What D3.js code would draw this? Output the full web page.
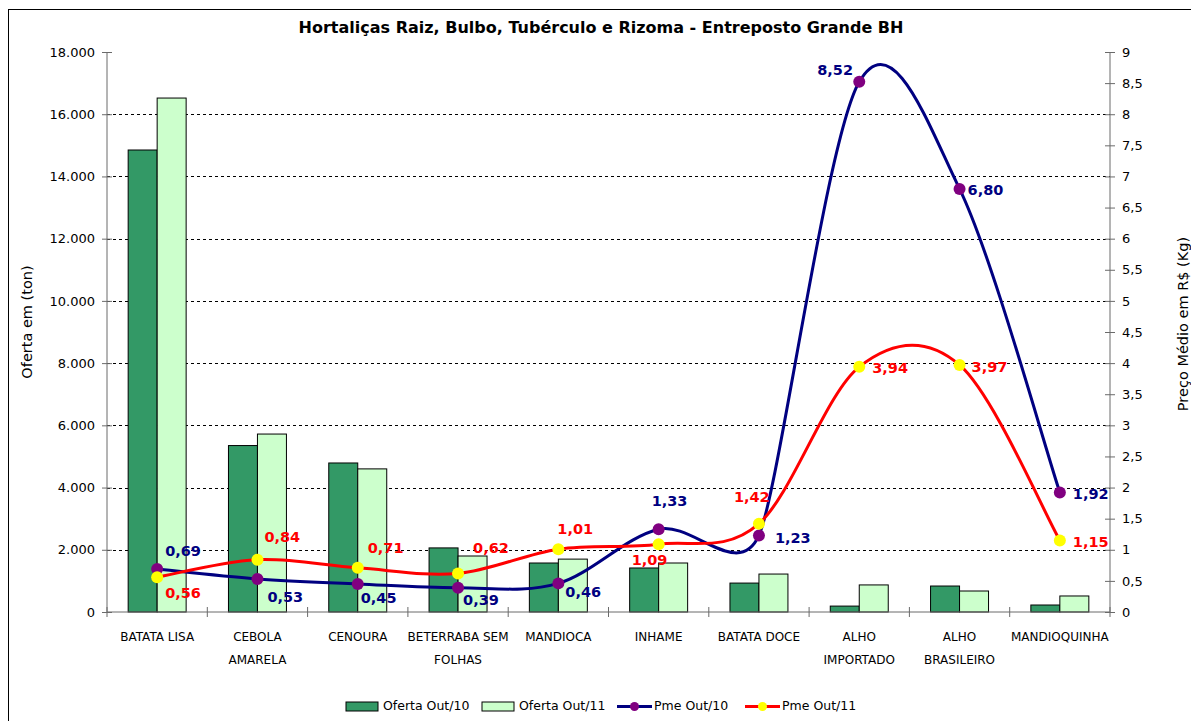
<!DOCTYPE html>
<html><head><meta charset="utf-8">
<script src="https://cdn.jsdelivr.net/npm/d3@7"></script>
<style>
html,body{margin:0;padding:0;background:#fff;}
svg{display:block;font-family:"DejaVu Sans",Verdana,sans-serif;}
</style></head>
<body>
<svg id="chart" width="1191" height="721"></svg>
<script>
// ---- data ----
const categories = ["BATATA LISA","CEBOLA AMARELA","CENOURA","BETERRABA SEM FOLHAS","MANDIOCA","INHAME","BATATA DOCE","ALHO IMPORTADO","ALHO BRASILEIRO","MANDIOQUINHA"];
const categoryLines = [["BATATA LISA"],["CEBOLA","AMARELA"],["CENOURA"],["BETERRABA SEM","FOLHAS"],["MANDIOCA"],["INHAME"],["BATATA DOCE"],["ALHO","IMPORTADO"],["ALHO","BRASILEIRO"],["MANDIOQUINHA"]];
const ofertaOut10 = [14850, 5350, 4790, 2060, 1575, 1415, 930, 190, 835, 225];
const ofertaOut11 = [16520, 5720, 4600, 1800, 1700, 1575, 1220, 870, 675, 515];
const pmeOut10 = [0.69, 0.53, 0.45, 0.39, 0.46, 1.33, 1.23, 8.52, 6.80, 1.92];
const pmeOut11 = [0.56, 0.84, 0.71, 0.62, 1.01, 1.09, 1.42, 3.94, 3.97, 1.15];
const leftTicks = [0,2000,4000,6000,8000,10000,12000,14000,16000,18000];
const rightTicks = [0,0.5,1,1.5,2,2.5,3,3.5,4,4.5,5,5.5,6,6.5,7,7.5,8,8.5,9];
const seriesNames = ["Oferta Out/10","Oferta Out/11","Pme Out/10","Pme Out/11"];
const title = "Hortaliças Raiz, Bulbo, Tubérculo e Rizoma - Entreposto Grande BH";

// ---- layout / style ----
const L = 107, R = 1110, T = 52, B = 612;
const C = {dark:"#339966", light:"#CCFFCC", navy:"#000080", red:"#FF0000", purple:"#800080", yellow:"#FFFF00", axis:"#6a6a6a"};
// label offsets relative to point (dx to text start, dy to text middle)
const off10 = [[8,-18],[10,18],[3,14],[5,12],[7,9],[-7,-28],[16,2],[-42,-12],[8,1],[13,1]];
const off11 = [[8,16],[7,-23],[10,-20],[15,-25],[-1,-20],[-27,16],[-25,-27],[13,1],[12,2],[13,1]];

const svg = d3.select("#chart");
svg.append("rect").attr("x",8.5).attr("y",9.5).attr("width",1190).attr("height",730)
  .attr("fill","#fff").attr("stroke","#000").attr("stroke-width",1);

const x = d3.scaleBand().domain(categories).range([L,R]).padding(0);
const x1 = d3.scaleBand().domain(["o10","o11"]).range([0,x.bandwidth()]).paddingInner(0).paddingOuter(0.73);
const yL = d3.scaleLinear().domain([0,18000]).range([B,T]);
const yR = d3.scaleLinear().domain([0,9]).range([B,T]);
const fmtL = v => d3.format(",")(v).replace(/,/g,".");
const fmtR = v => String(v).replace(".",",");
const fmtP = v => v.toFixed(2).replace(".",",");

// gridlines
svg.append("g").selectAll("line").data(leftTicks.filter(t=>t>0 && t<18000)).join("line")
  .attr("x1",L).attr("x2",R).attr("y1",d=>Math.round(yL(d))+0.5).attr("y2",d=>Math.round(yL(d))+0.5)
  .attr("stroke","#000").attr("stroke-width",1).attr("stroke-dasharray","3,3");

// bars
const g = svg.append("g");
categories.forEach((c,i)=>{
  [["o10",ofertaOut10[i],C.dark],["o11",ofertaOut11[i],C.light]].forEach(([k,v,col])=>{
    g.append("rect").attr("x",x(c)+x1(k)).attr("y",yL(v)).attr("width",x1.bandwidth()).attr("height",B-yL(v))
      .attr("fill",col).attr("stroke","#000").attr("stroke-width",1);
  });
});

// axes
const axL = d3.axisLeft(yL).tickValues(leftTicks).tickFormat(fmtL).tickSize(5).tickPadding(7);
const gL = svg.append("g").attr("transform",`translate(${L},0)`).call(axL);
gL.selectAll(".tick line").attr("x2",-5).clone().attr("x2",5);
const axR = d3.axisRight(yR).tickValues(rightTicks).tickFormat(fmtR).tickSize(5).tickPadding(7);
const gR = svg.append("g").attr("transform",`translate(${R},0)`).call(axR);
gR.selectAll(".tick line").attr("x2",5).clone().attr("x2",-5);
const axB = d3.axisBottom(x).tickValues([]).tickSize(0);
const gB = svg.append("g").attr("transform",`translate(0,${B})`).call(axB);
const bounds = categories.map(c=>x(c)).concat([R]);
gB.selectAll("line.bt").data(bounds).join("line").attr("class","bt")
  .attr("x1",d=>d).attr("x2",d=>d).attr("y1",-5).attr("y2",5);
[gL,gR,gB].forEach(a=>{
  a.selectAll("line").attr("stroke",C.axis);
  a.selectAll("text").attr("font-size",13).attr("fill","#000").attr("font-family","DejaVu Sans, sans-serif");
  a.select(".domain").remove();
});
svg.append("line").attr("x1",L).attr("x2",L).attr("y1",T).attr("y2",B).attr("stroke",C.axis);
svg.append("line").attr("x1",R).attr("x2",R).attr("y1",T).attr("y2",B).attr("stroke",C.axis);
svg.append("line").attr("x1",L).attr("x2",R).attr("y1",B).attr("y2",B).attr("stroke",C.axis);

// category labels
const xl = svg.append("g").attr("font-size",12).attr("fill","#000").attr("text-anchor","middle");
categories.forEach((c,i)=>{
  categoryLines[i].forEach((ln,j)=>{
    xl.append("text").attr("x",x(c)+x.bandwidth()/2).attr("y",641+j*23).text(ln);
  });
});

// Excel-style smoothed line (Bezier, tangent factor 1/6 clamped by half of neighbouring segments)
function smoothPath(pts){
  const dist=(a,b)=>Math.hypot(b[0]-a[0],b[1]-a[1]);
  const n=pts.length, tan=[];
  for(let i=0;i<n;i++){
    const p0=pts[Math.max(0,i-1)], p1=pts[i], p2=pts[Math.min(n-1,i+1)];
    const d02=dist(p0,p2);
    let f=1/6;
    if(i>0 && i<n-1 && d02>0){
      f=Math.min(1/6, dist(p0,p1)/(2*d02), dist(p1,p2)/(2*d02));
    }
    tan.push([(p2[0]-p0[0])*f,(p2[1]-p0[1])*f]);
  }
  const p=d3.path();
  p.moveTo(pts[0][0],pts[0][1]);
  for(let i=0;i<n-1;i++){
    const a=pts[i], b=pts[i+1];
    p.bezierCurveTo(a[0]+tan[i][0],a[1]+tan[i][1], b[0]-tan[i+1][0],b[1]-tan[i+1][1], b[0],b[1]);
  }
  return p.toString();
}
const cx = i => x(categories[i]) + x.bandwidth()/2;
const toPts = arr => arr.map((v,i)=>[cx(i),yR(v)]);
svg.append("path").attr("d",smoothPath(toPts(pmeOut10))).attr("fill","none").attr("stroke",C.navy).attr("stroke-width",3);
svg.append("path").attr("d",smoothPath(toPts(pmeOut11))).attr("fill","none").attr("stroke",C.red).attr("stroke-width",3);
svg.append("g").selectAll("circle").data(pmeOut10).join("circle")
  .attr("cx",(d,i)=>cx(i)).attr("cy",d=>yR(d)).attr("r",6).attr("fill",C.purple);
svg.append("g").selectAll("circle").data(pmeOut11).join("circle")
  .attr("cx",(d,i)=>cx(i)).attr("cy",d=>yR(d)).attr("r",6).attr("fill",C.yellow);

// data labels
const lab = svg.append("g").attr("font-size",14.5).attr("font-weight","bold");
pmeOut10.forEach((v,i)=>{
  lab.append("text").attr("x",cx(i)+off10[i][0]).attr("y",yR(v)+off10[i][1]).attr("dy","0.35em")
    .attr("fill",C.navy).text(fmtP(v));
});
pmeOut11.forEach((v,i)=>{
  lab.append("text").attr("x",cx(i)+off11[i][0]).attr("y",yR(v)+off11[i][1]).attr("dy","0.35em")
    .attr("fill",C.red).text(fmtP(v));
});

// titles
svg.append("text").attr("x",601).attr("y",33).attr("text-anchor","middle").attr("font-size",16)
  .attr("font-weight","bold").text(title);
svg.append("text").attr("transform","translate(32,322) rotate(-90)").attr("text-anchor","middle")
  .attr("font-size",14.5).text("Oferta em (ton)");
svg.append("text").attr("transform","translate(1188,324) rotate(-90)").attr("text-anchor","middle")
  .attr("font-size",14.5).text("Preço Médio em R$ (Kg)");

// legend
const lg = svg.append("g").attr("font-size",12.5);
const legY = 706;
[[346,C.dark],[482,C.light]].forEach(([lx,col],k)=>{
  lg.append("rect").attr("x",lx).attr("y",legY-4).attr("width",32).attr("height",9).attr("fill",col).attr("stroke","#000");
  lg.append("text").attr("x",lx+37).attr("y",legY).attr("dy","0.35em").text(seriesNames[k]);
});
[[617,C.navy,C.purple],[745,C.red,C.yellow]].forEach(([lx,lc,dc],k)=>{
  lg.append("line").attr("x1",lx).attr("x2",lx+35).attr("y1",legY+0.5).attr("y2",legY+0.5).attr("stroke",lc).attr("stroke-width",3);
  lg.append("circle").attr("cx",lx+17.5).attr("cy",legY+0.5).attr("r",4.5).attr("fill",dc);
  lg.append("text").attr("x",lx+37).attr("y",legY).attr("dy","0.35em").text(seriesNames[k+2]);
});
</script>
</body></html>
